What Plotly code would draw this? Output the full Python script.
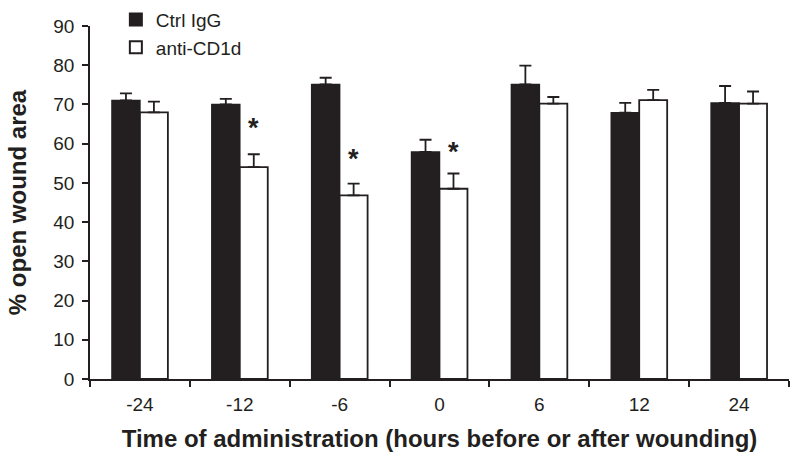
import plotly.graph_objects as go

categories = ["-24", "-12", "-6", "0", "6", "12", "24"]
ctrl_values = [71.0, 70.0, 75.1, 57.9, 75.1, 67.9, 70.4]
ctrl_errors = [1.8, 1.4, 1.7, 3.1, 4.8, 2.5, 4.3]
anti_values = [68.0, 54.0, 46.8, 48.5, 70.2, 71.1, 70.2]
anti_errors = [2.7, 3.3, 3.0, 3.9, 1.7, 2.6, 3.1]
star_categories = ["-12", "-6", "0"]
star_y = [64.0, 56.0, 58.0]

font_family = "Liberation Sans, Arial, sans-serif"

fig = go.Figure()
fig.add_trace(go.Bar(
    x=categories, y=ctrl_values, name="Ctrl IgG",
    marker=dict(color="#231f20", line=dict(color="#231f20", width=1.5)),
    error_y=dict(type="data", array=ctrl_errors, arrayminus=[0]*7, symmetric=False,
                 color="#231f20", thickness=1.8, width=6),
))
fig.add_trace(go.Bar(
    x=categories, y=anti_values, name="anti-CD1d",
    marker=dict(color="white", line=dict(color="#231f20", width=1.8)),
    error_y=dict(type="data", array=anti_errors, arrayminus=[0]*7, symmetric=False,
                 color="#231f20", thickness=1.8, width=6),
))

for c, yv in zip(star_categories, star_y):
    fig.add_annotation(x=categories.index(c), y=yv, text="<b>*</b>", showarrow=False, xshift=14,
                       font=dict(size=27, color="#231f20", family=font_family))

fig.update_layout(
    width=800, height=464,
    margin=dict(l=90, r=11, t=26, b=85, autoexpand=False),
    paper_bgcolor="white", plot_bgcolor="white",
    barmode="group", bargap=0.44, bargroupgap=0,
    font=dict(family=font_family, color="#231f20", size=19),
    legend=dict(x=0.037, y=1.072, xanchor="left", yanchor="top",
                bgcolor="rgba(0,0,0,0)", font=dict(size=19),
                itemsizing="constant", tracegroupgap=0, itemwidth=30),
    xaxis=dict(
        type="category", categoryorder="array", categoryarray=categories,
        range=[-0.5, len(categories) - 0.5],
        showline=True, linecolor="#231f20", linewidth=1.8,
        ticks="outside", ticklen=6, tickwidth=1.5, tickcolor="#231f20",
        tickson="boundaries", showgrid=False, zeroline=False,
        tickfont=dict(size=19), ticklabelstandoff=7,
        title=dict(text="<b>Time of administration (hours before or after wounding)</b>",
                   font=dict(size=24), standoff=16),
    ),
    yaxis=dict(
        range=[0, 90], dtick=10, showline=True, linecolor="#231f20", linewidth=1.8,
        ticks="outside", ticklen=6, tickwidth=1.5, tickcolor="#231f20",
        showgrid=False, zeroline=False, tickfont=dict(size=19), ticklabelstandoff=4,
        title=dict(text="<b>% open wound area</b>", font=dict(size=24), standoff=20),
    ),
)

fig.write_html("out.html", config={"displayModeBar": False},
               post_script="document.body.style.margin='0';")
